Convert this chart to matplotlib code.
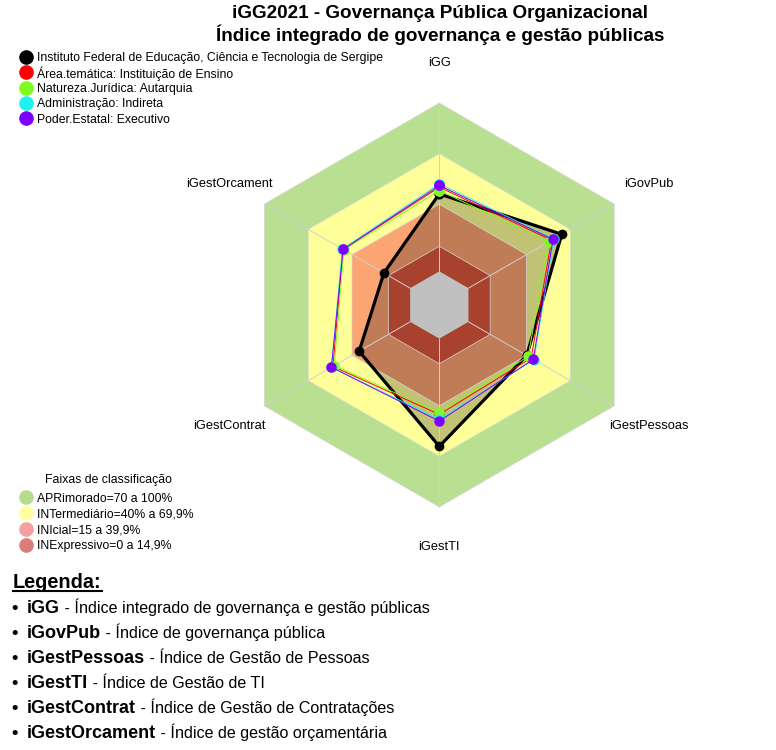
import numpy as np
import matplotlib.pyplot as plt
from matplotlib.lines import Line2D
from matplotlib import font_manager

plt.rcParams['font.family'] = ['Liberation Sans', 'DejaVu Sans']

# dados
eixos = ['iGG', 'iGovPub', 'iGestPessoas', 'iGestTI', 'iGestContrat', 'iGestOrcament']
org = [0.46, 0.64, 0.40, 0.64, 0.35, 0.18]
area = [0.50, 0.57, 0.43, 0.45, 0.53, 0.46]
natureza = [0.48, 0.55, 0.41, 0.44, 0.52, 0.455]
admin = [0.52, 0.585, 0.45, 0.48, 0.54, 0.465]
poder = [0.51, 0.58, 0.445, 0.49, 0.54, 0.46]

series_nomes = ['Instituto Federal de Educação, Ciência e Tecnologia de Sergipe',
                'Área.temática: Instituição de Ensino',
                'Natureza.Jurídica: Autarquia',
                'Administração: Indireta',
                'Poder.Estatal: Executivo']
series_cores = ['black', '#ff0000', '#7cfc20', '#1ff0f0', '#8000ff']

faixas = ['APRimorado=70 a 100%', 'INTermediário=40% a 69,9%',
          'INIcial=15 a 39,9%', 'INExpressivo=0 a 14,9%']
faixas_lim = [1.0, 0.699, 0.399, 0.149]
faixas_cor = ['#b9df90', '#ffff99', '#fca472', '#a8412e']
faixas_leg = ['#b5dc8c', '#ffff9e', '#f4a0a0', '#d87c7c']

legenda_termos = ['iGG', 'iGovPub', 'iGestPessoas', 'iGestTI', 'iGestContrat', 'iGestOrcament']
legenda_desc = ['Índice integrado de governança e gestão públicas',
                'Índice de governança pública',
                'Índice de Gestão de Pessoas',
                'Índice de Gestão de TI',
                'Índice de Gestão de Contratações',
                'Índice de gestão orçamentária']

RMIN = -0.2

try:
    font_manager.findfont('Liberation Sans Narrow', fallback_to_default=False)
    narrow = 'Liberation Sans Narrow'
except Exception:
    narrow = None

theta = np.deg2rad(90 - 60 * np.arange(len(eixos)))


def xy(vals):
    r = np.asarray(vals, dtype=float) - RMIN
    x = r * np.cos(theta)
    y = r * np.sin(theta)
    return np.append(x, x[0]), np.append(y, y[0])


fig = plt.figure(figsize=(7.76, 7.5), dpi=100)
W, H = 776, 750
ax = fig.add_axes([0.2407, 0.2567, 0.6508, 0.6733])
ax.set_xlim(-1.5, 1.5)
ax.set_ylim(-1.5, 1.5)
ax.set_aspect('equal')
ax.axis('off')

# faixas
for lim, c in zip(faixas_lim[:3], faixas_cor[:3]):
    x, y = xy([lim] * 6)
    ax.fill(x, y, color=c, lw=0, zorder=1)

# preenchimento da instituicao
x, y = xy(org)
ax.fill(x, y, color='black', alpha=0.24, lw=0, zorder=2)

x, y = xy([faixas_lim[3]] * 6)
ax.fill(x, y, color=faixas_cor[3], lw=0, zorder=3)

# grade
for lim in faixas_lim:
    x, y = xy([lim] * 6)
    ax.plot(x, y, color='#d8d8d8', lw=0.5, zorder=3.5)
x0, y0 = xy([0] * 6)
x1, y1 = xy([1] * 6)
for i in range(6):
    ax.plot([x0[i], x1[i]], [y0[i], y1[i]], color='#d0d0d0', lw=0.7, zorder=3.5)

x, y = xy([0] * 6)
ax.fill(x, y, color='#c0c0c0', lw=0, zorder=4)

# series
for vals, c in zip([org, area, natureza, admin, poder], series_cores):
    x, y = xy(vals)
    if c == 'black':
        ax.plot(x, y, color=c, lw=2.3, marker='o', ms=6, zorder=5)
    else:
        ax.plot(x, y, color=c, lw=0.7, marker='o', ms=6.5, zorder=6)

# rotulos dos eixos
xl, yl = xy([1.44 + RMIN] * 6)
for i, nome in enumerate(eixos):
    ax.text(xl[i], yl[i], nome, fontsize=9.3, ha='center', va='center', clip_on=False)

# titulo
tfam = [narrow, 'Liberation Sans'] if narrow else ['Liberation Sans']
tsize = 14.5 if narrow else 13.6
fig.text(0.567, 1 - 13 / H, 'iGG2021 - Governança Pública Organizacional', fontsize=tsize,
         fontweight='bold', family=tfam, ha='center', va='center')
fig.text(0.567, 1 - 35 / H, 'Índice integrado de governança e gestão públicas', fontsize=tsize,
         fontweight='bold', family=tfam, ha='center', va='center')


def legenda(cores, nomes, y0, dy):
    for i, (c, nome) in enumerate(zip(cores, nomes)):
        yy = 1 - (y0 + dy * i) / H
        fig.add_artist(Line2D([26 / W], [yy], ls='', marker='o', ms=9.5, color=c,
                              transform=fig.transFigure))
        fig.text(37 / W, yy, nome, fontsize=8.8, ha='left', va='center_baseline')


# legenda das series
legenda(series_cores, series_nomes, 57, 15.3)

# legenda das faixas
fig.text(108 / W, 1 - 478 / H, 'Faixas de classificação', fontsize=8.8, ha='center',
         va='center_baseline')
legenda(faixas_leg, faixas, 497, 16)

# legenda de texto
ren = fig.canvas.get_renderer()
t = fig.text(13 / W, 1 - 582 / H, 'Legenda:', fontsize=14.3, fontweight='bold',
             ha='left', va='center')
bb = t.get_window_extent(renderer=ren)
ul = fig.transFigure.inverted().transform([[bb.x0, bb.y0 + 1], [bb.x1, bb.y0 + 1]])
fig.add_artist(Line2D(ul[:, 0], ul[:, 1], color='black', lw=1.5, transform=fig.transFigure))

dfam = [narrow, 'Liberation Sans'] if narrow else ['Liberation Sans']
dsize = 14 if narrow else 11.6
for i, (termo, desc) in enumerate(zip(legenda_termos, legenda_desc)):
    yb = 1 - (613 + 25 * i) / H
    fig.text(11 / W, yb, '•', fontsize=13, fontweight='bold', ha='left', va='baseline')
    tb = fig.text(27 / W, yb, termo, fontsize=13, fontweight='bold',
                  ha='left', va='baseline')
    bb = tb.get_window_extent(renderer=ren)
    xr = fig.transFigure.inverted().transform([[bb.x1, 0]])[0, 0]
    fig.text(xr, yb, ' - ' + desc, fontsize=dsize, family=dfam, ha='left', va='baseline')

fig.savefig('out.png', dpi=100)
